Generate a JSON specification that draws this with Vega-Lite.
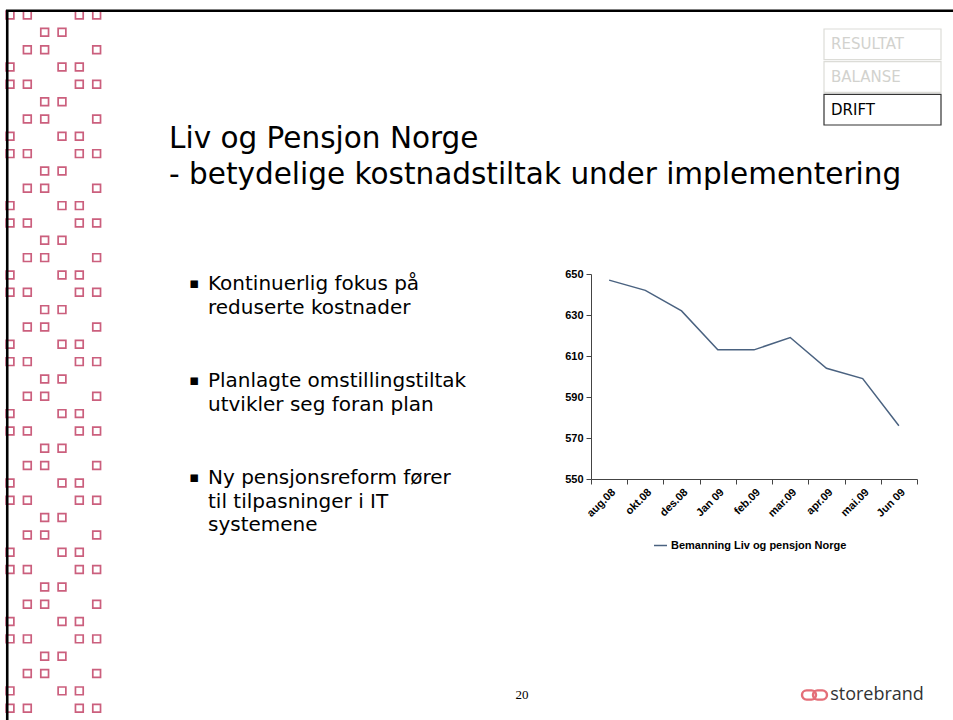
{
  "$schema": "https://vega.github.io/schema/vega-lite/v6.json",
  "padding": 0,
  "background": "#ffffff",
  "config": {"view": {"stroke": null}, "concat": {"spacing": 0}},
  "bounds": "flush",
  "spacing": 0,
  "resolve": {"scale": {"color": "independent"}, "legend": {"color": "independent"}},
  "hconcat": [
    {
      "width": 110,
      "height": 720,
      "data": {"values": [
        {"r": 0, "c": [0, 1, 4, 5]}, {"r": 1, "c": [2, 3]}, {"r": 2, "c": [1, 2, 5]}, {"r": 3, "c": [0, 3, 4]},
        {"r": 4, "c": [0, 1, 4, 5]}, {"r": 5, "c": [2, 3]}, {"r": 6, "c": [1, 2, 5]}, {"r": 7, "c": [0, 3, 4]},
        {"r": 8, "c": [0, 1, 4, 5]}, {"r": 9, "c": [2, 3]}, {"r": 10, "c": [1, 2, 5]}, {"r": 11, "c": [0, 3, 4]},
        {"r": 12, "c": [0, 1, 4, 5]}, {"r": 13, "c": [2, 3]}, {"r": 14, "c": [1, 2, 5]}, {"r": 15, "c": [0, 3, 4]},
        {"r": 16, "c": [0, 1, 4, 5]}, {"r": 17, "c": [2, 3]}, {"r": 18, "c": [1, 2, 5]}, {"r": 19, "c": [0, 3, 4]},
        {"r": 20, "c": [0, 1, 4, 5]}, {"r": 21, "c": [2, 3]}, {"r": 22, "c": [1, 2, 5]}, {"r": 23, "c": [0, 3, 4]},
        {"r": 24, "c": [0, 1, 4, 5]}, {"r": 25, "c": [2, 3]}, {"r": 26, "c": [1, 2, 5]}, {"r": 27, "c": [0, 3, 4]},
        {"r": 28, "c": [0, 1, 4, 5]}, {"r": 29, "c": [2, 3]}, {"r": 30, "c": [1, 2, 5]}, {"r": 31, "c": [0, 3, 4]},
        {"r": 32, "c": [0, 1, 4, 5]}, {"r": 33, "c": [2, 3]}, {"r": 34, "c": [1, 2, 5]}, {"r": 35, "c": [0, 3, 4]},
        {"r": 36, "c": [0, 1, 4, 5]}, {"r": 37, "c": [2, 3]}, {"r": 38, "c": [1, 2, 5]}, {"r": 39, "c": [0, 3, 4]},
        {"r": 40, "c": [0, 1, 4, 5]}
      ]},
      "layer": [
        {
          "transform": [{"flatten": ["c"]}],
          "mark": {"type": "point", "shape": "square", "filled": false, "color": "#c64e70", "strokeWidth": 1.7, "size": 60, "opacity": 0.9},
          "encoding": {
            "x": {"field": "c", "type": "quantitative", "scale": {"domain": [-0.577, 5.77], "nice": false, "zero": false}, "axis": null},
            "y": {"field": "r", "type": "quantitative", "scale": {"domain": [-0.8656, 40.68], "nice": false, "zero": false, "reverse": true}, "axis": null}
          }
        },
        {
          "data": {"values": [{"edge": "left"}]},
          "mark": {"type": "rule", "color": "#000000", "strokeWidth": 2.6},
          "encoding": {
            "x": {"datum": -0.16, "type": "quantitative"},
            "y": {"datum": -0.247, "type": "quantitative"},
            "y2": {"datum": 42}
          }
        },
        {
          "data": {"values": [{"edge": "top"}]},
          "mark": {"type": "rule", "color": "#000000", "strokeWidth": 2.6},
          "encoding": {
            "x": {"datum": -0.235, "type": "quantitative"},
            "x2": {"datum": 54.6},
            "y": {"datum": -0.247, "type": "quantitative"}
          }
        }
      ]
    },
    {
      "resolve": {"scale": {"color": "independent"}, "legend": {"color": "independent"}},
      "vconcat": [
        {"width": 10, "height": 29, "data": {"values": []}, "mark": "point"},
        {
          "hconcat": [
            {"width": 714, "height": 96, "data": {"values": []}, "mark": "point"},
            {
              "width": 117,
              "height": 96,
              "data": {"values": [{"k": "RESULTAT"}, {"k": "BALANSE"}, {"k": "DRIFT"}]},
              "encoding": {
                "y": {"field": "k", "type": "nominal", "sort": null, "scale": {"type": "band", "paddingInner": 0.06, "paddingOuter": 0}, "axis": null}
              },
              "layer": [
                {
                  "mark": {"type": "rect", "fill": "#ffffff", "strokeWidth": 1.2},
                  "encoding": {
                    "x": {"datum": 0, "type": "quantitative", "scale": {"domain": [0, 1], "nice": false}, "axis": null},
                    "x2": {"datum": 1},
                    "stroke": {"condition": {"test": "datum.k === 'DRIFT'", "value": "#333333"}, "value": "#dcdcd7"}
                  }
                },
                {
                  "mark": {"type": "text", "align": "left", "baseline": "middle", "font": "DejaVu Sans", "fontSize": 15},
                  "encoding": {
                    "x": {"datum": 0.06, "type": "quantitative"},
                    "text": {"field": "k"},
                    "color": {"condition": {"test": "datum.k === 'DRIFT'", "value": "#000000"}, "value": "#d2d2ce"}
                  }
                }
              ]
            }
          ],
          "spacing": 0,
          "bounds": "flush"
        },
        {"width": 10, "height": 245, "data": {"values": []}, "mark": "point"},
        {
          "resolve": {"scale": {"color": "independent"}, "legend": {"color": "independent"}},
          "hconcat": [
            {
              "width": 400,
              "height": 194,
              "title": {
                "text": ["Liv og Pensjon Norge", "- betydelige kostnadstiltak under implementering"],
                "anchor": "start",
                "frame": "group",
                "font": "DejaVu Sans",
                "fontSize": 29.5,
                "fontWeight": "normal",
                "color": "#000000",
                "lineHeight": 36,
                "offset": 84,
                "dx": 59
              },
              "data": {"values": [
                {"i": 1, "t": "Kontinuerlig fokus på\nreduserte kostnader"},
                {"i": 2, "t": "Planlagte omstillingstiltak\nutvikler seg foran plan"},
                {"i": 3, "t": "Ny pensjonsreform fører\ntil tilpasninger i IT\nsystemene"}
              ]},
              "encoding": {
                "y": {"field": "i", "type": "ordinal", "scale": {"type": "point", "padding": 0}, "axis": null}
              },
              "layer": [
                {
                  "mark": {"type": "text", "text": "▪", "align": "left", "baseline": "top", "font": "DejaVu Sans", "fontSize": 15, "dy": 2, "color": "#000000"},
                  "encoding": {
                    "x": {"datum": 0.1975, "type": "quantitative", "scale": {"domain": [0, 1], "nice": false}, "axis": null}
                  }
                },
                {
                  "mark": {"type": "text", "align": "left", "baseline": "top", "lineBreak": "\n", "lineHeight": 23.7, "font": "DejaVu Sans", "fontSize": 20, "color": "#000000"},
                  "encoding": {
                    "x": {"datum": 0.245, "type": "quantitative"},
                    "text": {"field": "t"}
                  }
                }
              ]
            },
            {
              "width": 326,
              "height": 205,
              "data": {"values": [
                {"m": "aug.08", "v": 647},
                {"m": "okt.08", "v": 642},
                {"m": "des.08", "v": 632},
                {"m": "Jan 09", "v": 613},
                {"m": "feb.09", "v": 613},
                {"m": "mar.09", "v": 619},
                {"m": "apr.09", "v": 604},
                {"m": "mai.09", "v": 599},
                {"m": "Jun 09", "v": 576}
              ]},
              "mark": {"type": "line", "strokeWidth": 1.5},
              "encoding": {
                "x": {
                  "field": "m", "type": "nominal", "sort": null,
                  "scale": {"type": "band", "paddingInner": 0, "paddingOuter": 0},
                  "axis": {"title": null, "labelAngle": -45, "tickBand": "extent", "labelFont": "Liberation Sans", "labelFontWeight": "bold", "labelFontSize": 11, "labelColor": "#000000", "domainColor": "#444444", "tickColor": "#444444", "tickSize": 5, "labelPadding": 2, "grid": false}
                },
                "y": {
                  "field": "v", "type": "quantitative",
                  "scale": {"domain": [550, 650], "nice": false, "zero": false},
                  "axis": {"title": null, "values": [550, 570, 590, 610, 630, 650], "grid": false, "labelFont": "Liberation Sans", "labelFontWeight": "bold", "labelFontSize": 11, "labelColor": "#000000", "domainColor": "#444444", "tickColor": "#444444", "tickSize": 5, "labelPadding": 3}
                },
                "color": {
                  "datum": "Bemanning Liv og pensjon Norge",
                  "scale": {"range": ["#4a6280"]},
                  "legend": {"title": null, "orient": "none", "legendX": 62, "legendY": 264, "direction": "horizontal", "padding": 0, "symbolType": "stroke", "symbolSize": 169, "symbolStrokeWidth": 1.5, "labelOffset": 3, "labelLimit": 0, "labelFont": "Liberation Sans", "labelFontWeight": "bold", "labelFontSize": 11, "labelColor": "#000000"}
                }
              }
            }
          ],
          "spacing": 81,
          "bounds": "flush"
        },
        {"width": 10, "height": 411, "data": {"values": []}, "mark": "point"},
        {
          "hconcat": [
            {"width": 391.5, "height": 20, "data": {"values": []}, "mark": "point"},
            {
              "width": 40, "height": 20,
              "data": {"values": [{"t": "20"}]},
              "mark": {"type": "text", "font": "Liberation Serif", "fontSize": 13, "baseline": "middle", "color": "#000000"},
              "encoding": {"text": {"field": "t"}}
            },
            {"width": 258.5, "height": 20, "data": {"values": []}, "mark": "point"},
            {
              "width": 27, "height": 20,
              "data": {"values": [{"t": "logo"}]},
              "mark": {"type": "point", "filled": false, "color": "#d9313f", "strokeWidth": 2.4, "size": 650,
                "shape": "M-0.62,-0.36 L-0.24,-0.36 A0.36,0.36 0 0 1 -0.24,0.36 L-0.62,0.36 A0.36,0.36 0 0 1 -0.62,-0.36 Z M0.24,-0.36 L0.62,-0.36 A0.36,0.36 0 0 1 0.62,0.36 L0.24,0.36 A0.36,0.36 0 0 1 0.24,-0.36 Z"},
              "encoding": {}
            },
            {
              "width": 98, "height": 20,
              "data": {"values": [{"t": "storebrand"}]},
              "mark": {"type": "text", "font": "Open Sans", "fontSize": 18, "baseline": "middle", "color": "#333333"},
              "encoding": {"text": {"field": "t"}}
            }
          ],
          "spacing": 0,
          "bounds": "flush"
        }
      ],
      "spacing": 0,
      "bounds": "flush"
    }
  ]
}
